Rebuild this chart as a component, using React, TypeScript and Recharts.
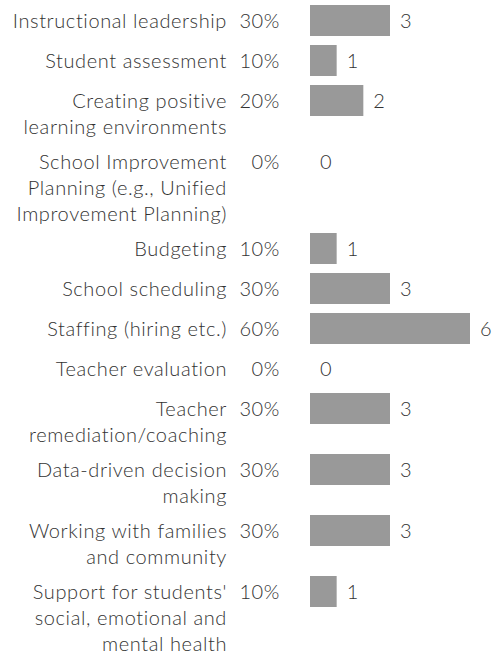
import React from "react";
import { BarChart, Bar, XAxis, YAxis, LabelList } from "recharts";

const categories = [
  "Instructional leadership",
  "Student assessment",
  "Creating positive\nlearning environments",
  "School Improvement\nPlanning (e.g., Unified\nImprovement Planning)",
  "Budgeting",
  "School scheduling",
  "Staffing (hiring etc.)",
  "Teacher evaluation",
  "Teacher\nremediation/coaching",
  "Data-driven decision\nmaking",
  "Working with families\nand community",
  "Support for students'\nsocial, emotional and\nmental health",
];

const counts = [3, 1, 2, 0, 1, 3, 6, 0, 3, 3, 3, 1];

const percents = ["30%", "10%", "20%", "0%", "10%", "30%", "60%", "0%", "30%", "30%", "30%", "10%"];

const WIDTH = 493;
const HEIGHT = 654;
const AXIS_W = 310;
const BAR_H = 31;
const LINE_H = 26;
const ROW_GAP = 9;
const FIRST_TOP = 5.5;
const FONT = "Lato, 'Open Sans', sans-serif";
const FS = 20;
const FW = 300;
const LS = 0.6;
const TEXT = "#333333";
const BAR = "#999999";

// layout: row centres derived from the number of label lines
const positions: number[] = [];
{
  let top = FIRST_TOP;
  categories.forEach((c) => {
    positions.push(top + BAR_H / 2);
    const lines = c.split("\n").length;
    top += Math.max(BAR_H, LINE_H * lines) + ROW_GAP;
  });
}

const data = categories.map((name, i) => ({
  name,
  count: counts[i],
  percent: percents[i],
  pos: positions[i],
}));

const CategoryTick = (props: any) => {
  const { y, payload } = props;
  const i = positions.indexOf(payload.value);
  if (i < 0) return null;
  const lines = categories[i].split("\n");
  const labelRight = AXIS_W - 83;
  const pctRight = AXIS_W - 30;
  return (
    <g>
      <text
        x={labelRight}
        y={y + 7}
        textAnchor="end"
        fill={TEXT}
        fontSize={FS}
        fontWeight={FW}
        letterSpacing={LS}
        fontFamily={FONT}
      >
        {lines.map((l, k) => (
          <tspan key={k} x={labelRight} dy={k === 0 ? 0 : LINE_H}>
            {l}
          </tspan>
        ))}
      </text>
      <text
        x={pctRight}
        y={y + 7}
        textAnchor="end"
        fill={TEXT}
        fontSize={FS}
        fontWeight={FW}
        letterSpacing={LS}
        fontFamily={FONT}
      >
        {percents[i]}
      </text>
    </g>
  );
};

const CountLabel = (props: any) => {
  const { x, y, width, height, value } = props;
  return (
    <text
      x={x + width + 10}
      y={y + height / 2 + 7}
      textAnchor="start"
      fill={TEXT}
      fontSize={FS}
      fontWeight={FW}
      fontFamily={FONT}
    >
      {String(value)}
    </text>
  );
};

export default function App() {
  return (
    <div style={{ position: "absolute", left: 0, top: 0, background: "#fff" }}>
      <BarChart
        width={WIDTH}
        height={HEIGHT}
        data={data}
        layout="vertical"
        margin={{ top: 0, right: 23, bottom: 0, left: 0 }}
      >
        <XAxis type="number" dataKey="count" domain={[0, 6]} hide />
        <YAxis
          type="number"
          dataKey="pos"
          domain={[0, HEIGHT]}
          ticks={positions}
          interval={0}
          width={AXIS_W}
          axisLine={false}
          tickLine={false}
          tick={<CategoryTick />}
        />
        <Bar
          dataKey="count"
          fill={BAR}
          barSize={BAR_H}
          minPointSize={0.001}
          isAnimationActive={false}
        >
          <LabelList dataKey="count" content={<CountLabel />} />
        </Bar>
      </BarChart>
    </div>
  );
}
